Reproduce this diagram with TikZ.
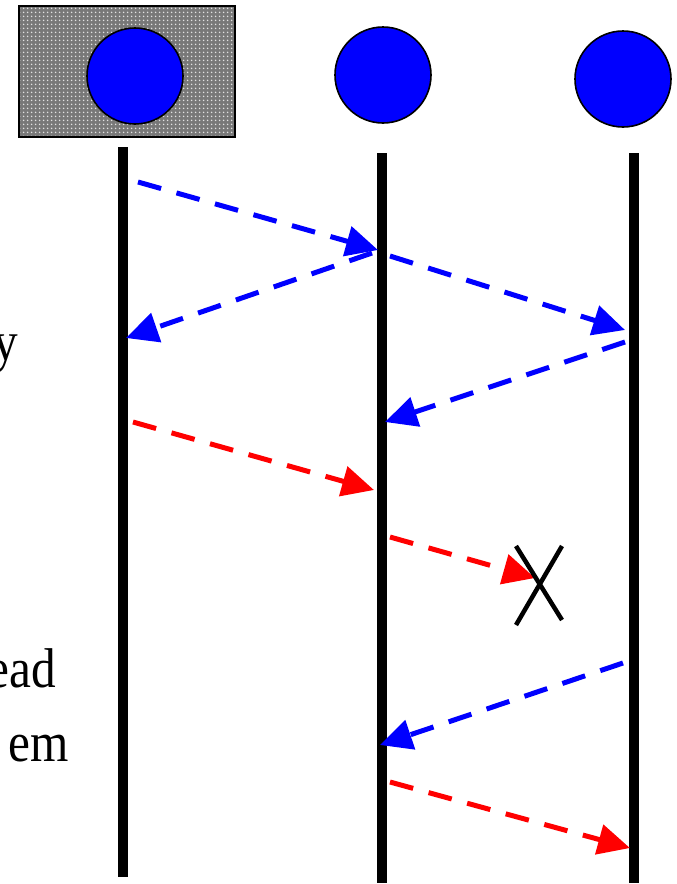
\documentclass[tikz,border=0pt]{standalone}
\usepackage{fontspec}
\setmainfont{Liberation Serif}
\usetikzlibrary{arrows.meta,patterns.meta}
\definecolor{pureblue}{RGB}{0,0,255}
\definecolor{purered}{RGB}{255,0,0}
\definecolor{boxgray}{RGB}{120,120,120}
\definecolor{dotgray}{RGB}{225,225,225}
\newcommand{\narrowtxt}[1]{\scalebox{0.88}[1]{#1}}
\tikzset{
  actor/.style={circle,draw=black,line width=1.6pt,fill=pureblue,minimum size=96pt,inner sep=0pt},
  lifeline/.style={line width=10pt,black},
  msg/.style={line width=5pt,dash pattern=on 24pt off 16pt,-{Triangle[length=32pt,width=30pt]}},
  bluemsg/.style={msg,pureblue},
  redmsg/.style={msg,purered},
  lbl/.style={font=\fontsize{56}{60}\selectfont,inner sep=0pt,anchor=base east},
  cross/.style={line width=4.5pt,black}
}
\begin{document}
\begin{tikzpicture}[x=1pt,y=-1pt]
\useasboundingbox (0,0) rectangle (677,884);
% textured box
\fill[boxgray] (19,6) rectangle (235,137);
\fill[pattern={Dots[distance=4pt,radius=1pt]},pattern color=dotgray] (19,6) rectangle (235,137);
\draw[line width=1.6pt] (19,6) rectangle (235,137);
% actors
\node[actor] (a1) at (135,76) {};
\node[actor] (a2) at (383,75) {};
\node[actor] (a3) at (623,79) {};
% lifelines
\coordinate (l1t) at (123,147); \coordinate (l1b) at (123,877);
\coordinate (l2t) at (382,153); \coordinate (l2b) at (382,883);
\coordinate (l3t) at (634,153); \coordinate (l3b) at (634,883);
\draw[lifeline] (l1t) -- (l1b);
\draw[lifeline] (l2t) -- (l2b);
\draw[lifeline] (l3t) -- (l3b);
% message endpoints
\coordinate (m1s) at (138,182); \coordinate (m1e) at (378,250);
\coordinate (m2s) at (372,253); \coordinate (m2e) at (126,338);
\coordinate (m3s) at (390,256); \coordinate (m3e) at (625,330);
\coordinate (m4s) at (625,342); \coordinate (m4e) at (385,422);
\coordinate (m5s) at (133,422); \coordinate (m5e) at (374,490);
\coordinate (m6s) at (390,537); \coordinate (m6e) at (535,578);
\coordinate (m7s) at (623,663); \coordinate (m7e) at (380,745);
\coordinate (m8s) at (390,782); \coordinate (m8e) at (630,848);
\draw[bluemsg] (m1s) -- (m1e);
\draw[bluemsg] (m2s) -- (m2e);
\draw[bluemsg] (m3s) -- (m3e);
\draw[bluemsg] (m4s) -- (m4e);
\draw[redmsg] (m5s) -- (m5e);
\draw[redmsg] (m6s) -- (m6e);
\draw[bluemsg] (m7s) -- (m7e);
\draw[redmsg] (m8s) -- (m8e);
% cross
\coordinate (x1) at (516,546); \coordinate (x2) at (562,620);
\coordinate (x3) at (562,546); \coordinate (x4) at (516,625);
\draw[cross] (x1) -- (x2);
\draw[cross] (x3) -- (x4);
% labels cut off at the left edge, as in the reference
\node[lbl] (t1) at (18,360) {\narrowtxt{y}};
\node[lbl] (t2) at (56,687) {\narrowtxt{ead}};
\node[lbl] (t3) at (69,761) {\narrowtxt{em}};
\end{tikzpicture}
\end{document}
